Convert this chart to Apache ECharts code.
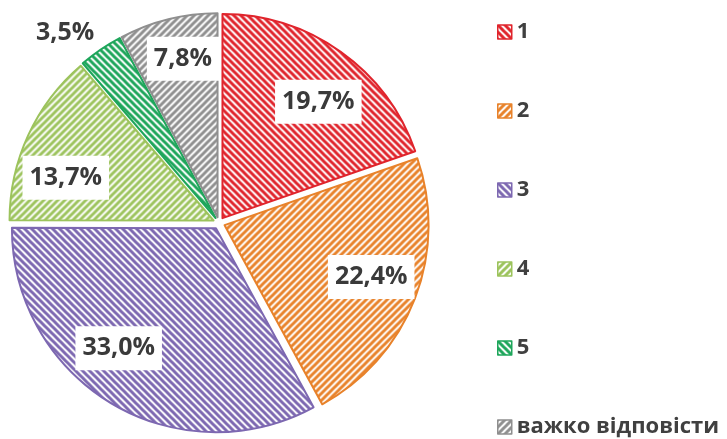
<!DOCTYPE html>
<html><head><meta charset="utf-8">
<script src="https://cdn.jsdelivr.net/npm/echarts@6/dist/echarts.min.js"></script>
<style>html,body{margin:0;padding:0;background:#fff}#c{width:727px;height:439px}</style>
</head><body><div id="c"></div>
<script>
const categories = ['1', '2', '3', '4', '5', 'важко відповісти'];
const shares = [19.7, 22.4, 33.0, 13.7, 3.5, 7.8];
const colors = ['#e0242c', '#e8822a', '#7d68b1', '#9cc35c', '#1ea65b', '#8f8f8f'];
const hatchDirs = ['\\', '/', '\\', '/', '\\', '/'];
const outsideLabel = [false, false, false, false, true, false];
// label nudges (style only), in px
const labelNudge = [[6, 10], [2, -4], [-18, -13], [-7, 22], [10, 0], [3, -8]];

function hatch(color, dir) {
  const s = 7;
  const c = document.createElement('canvas');
  c.width = s; c.height = s;
  const g = c.getContext('2d');
  g.fillStyle = '#fff'; g.fillRect(0, 0, s, s);
  g.strokeStyle = color; g.lineWidth = 3;
  g.beginPath();
  for (let k = -1; k <= 1; k++) {
    if (dir === '\\') { g.moveTo(k * s - s, -s); g.lineTo(k * s + 2 * s, 2 * s); }
    else { g.moveTo(k * s + 2 * s, -s); g.lineTo(k * s - s, 2 * s); }
  }
  g.stroke();
  return c;
}
const fmt = v => v.toFixed(1).replace('.', ',') + '%';
const labelFont = { fontFamily: 'Open Sans', fontWeight: 'bold', fontSize: 25, color: '#3a3a3a' };
const nudge = p => ({ dx: labelNudge[p.dataIndex][0], dy: labelNudge[p.dataIndex][1] });

const mainData = categories.map((n, i) => ({
  name: n, value: shares[i], selected: true,
  itemStyle: { color: { image: hatch(colors[i], hatchDirs[i]), repeat: 'repeat' }, borderColor: colors[i], borderWidth: 2 },
  label: outsideLabel[i] ? Object.assign({ show: true, position: 'outside', formatter: p => fmt(p.value) }, labelFont) : { show: false },
  labelLine: { show: false, length: 20, length2: 0 }
}));
const labelData = categories.map((n, i) => ({
  name: n, value: shares[i], selected: true,
  label: { show: !outsideLabel[i] }
}));

const chart = echarts.init(document.getElementById('c'), null, { renderer: 'canvas' });
chart.setOption({
  animation: false,
  backgroundColor: '#fff',
  legend: {
    data: categories, orient: 'vertical', left: 497, top: 20, height: 425, padding: 0,
    itemWidth: 14, itemHeight: 14, itemGap: 55, icon: 'rect', selectedMode: false,
    itemStyle: { borderWidth: 1.5 },
    textStyle: { fontFamily: 'Open Sans', fontWeight: 'bold', fontSize: 22, color: '#404040', lineHeight: 24 }
  },
  series: [
    {
      type: 'pie', center: [219, 223], radius: 204, startAngle: 90, clockwise: true,
      selectedMode: 'multiple', selectedOffset: 6, avoidLabelOverlap: false,
      emphasis: { disabled: true }, labelLayout: nudge, data: mainData
    },
    {
      type: 'pie', center: [219, 223], radius: 304, startAngle: 90, clockwise: true,
      selectedMode: 'multiple', selectedOffset: 6, avoidLabelOverlap: false, silent: true,
      emphasis: { disabled: true },
      itemStyle: { color: 'rgba(0,0,0,0)', borderWidth: 0 },
      label: Object.assign({ position: 'inside', formatter: p => fmt(p.value), backgroundColor: '#fff', padding: [10, 7, 9, 7] }, labelFont),
      labelLine: { show: false },
      labelLayout: nudge,
      data: labelData
    }
  ]
});
</script></body></html>
